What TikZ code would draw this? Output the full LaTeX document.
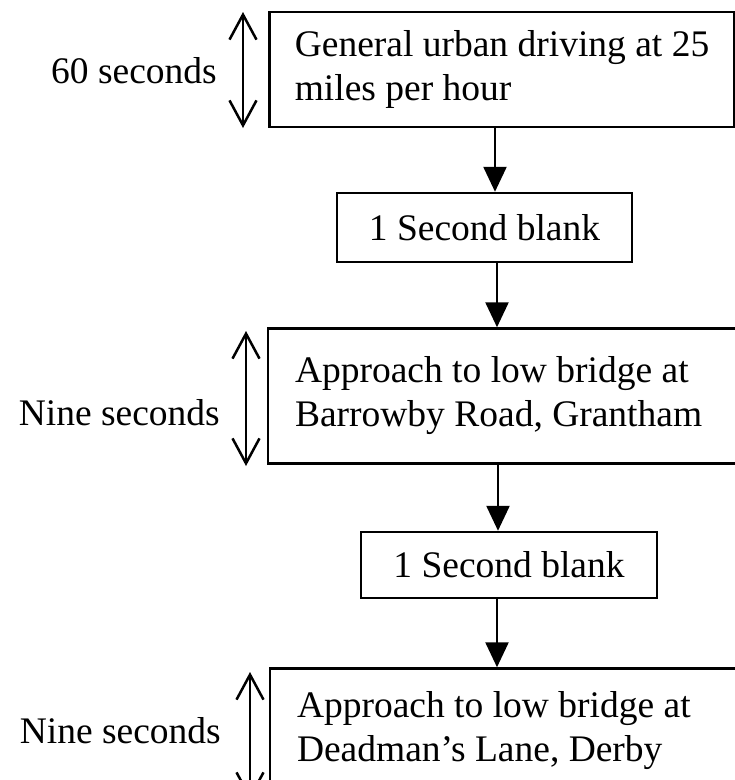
\documentclass[tikz,border=0pt]{standalone}
\usepackage{fontspec}
\setmainfont{Liberation Serif}
\usetikzlibrary{arrows.meta}
\begin{document}
\begin{tikzpicture}[x=1pt,y=-1pt, line width=2.5pt,
  font=\fontsize{37.5}{44}\selectfont,
  box/.style={draw, rectangle, inner sep=0pt, align=flush left},
  flow/.style={-{Triangle[width=23pt,length=25pt]}},
  span/.style={{Straight Barb[width=27pt,length=25pt]}-{Straight Barb[width=27pt,length=25pt]}},
  lab/.style={anchor=base east, inner sep=0pt}]
\useasboundingbox (0,0) rectangle (735,780);
\clip (0,0) rectangle (735,780);
% boxes
\node[box, minimum width=465pt, minimum height=115pt] (b1) at (502,69.5) {General urban driving at 25\\miles per hour};
\node[box, minimum width=295pt, minimum height=69pt] (b2) at (484.5,227.5) {1 Second blank};
\node[box, minimum width=532pt, minimum height=135pt, text width=478pt, inner xsep=27pt] (b3) at (534,396) {Approach to low bridge at\\Barrowby Road, Grantham};
\node[box, minimum width=296pt, minimum height=66pt] (b4) at (509,565) {1 Second blank};
\node[box, minimum width=528pt, minimum height=125pt, text width=474pt, inner xsep=26pt] (b5) at (534,731) {Approach to low bridge at\\Deadman's Lane, Derby};
% flow arrows
\coordinate (k1) at (495,0);
\coordinate (k2) at (497,0);
\coordinate (k3) at (498,0);
\coordinate (k4) at (497,0);
\draw[flow] (b1.south -| k1) -- (b2.north -| k1);
\draw[flow] (b2.south -| k2) -- (b3.north -| k2);
\draw[flow] (b3.south -| k3) -- (b4.north -| k3);
\draw[flow] (b4.south -| k4) -- (b5.north -| k4);
% duration arrows
\coordinate (s1a) at (243,12);  \coordinate (s1b) at (243,128);
\coordinate (s2a) at (246,331); \coordinate (s2b) at (246,466);
\coordinate (s3a) at (250,672); \coordinate (s3b) at (250,800);
\draw[span] (s1a) -- (s1b);
\draw[span] (s2a) -- (s2b);
\draw[span] (s3a) -- (s3b);
% labels
\node[lab] (l1) at (218,83) {60 seconds};
\node[lab] (l2) at (221,425) {Nine seconds};
\node[lab] (l3) at (222,743) {Nine seconds};
\end{tikzpicture}
\end{document}
